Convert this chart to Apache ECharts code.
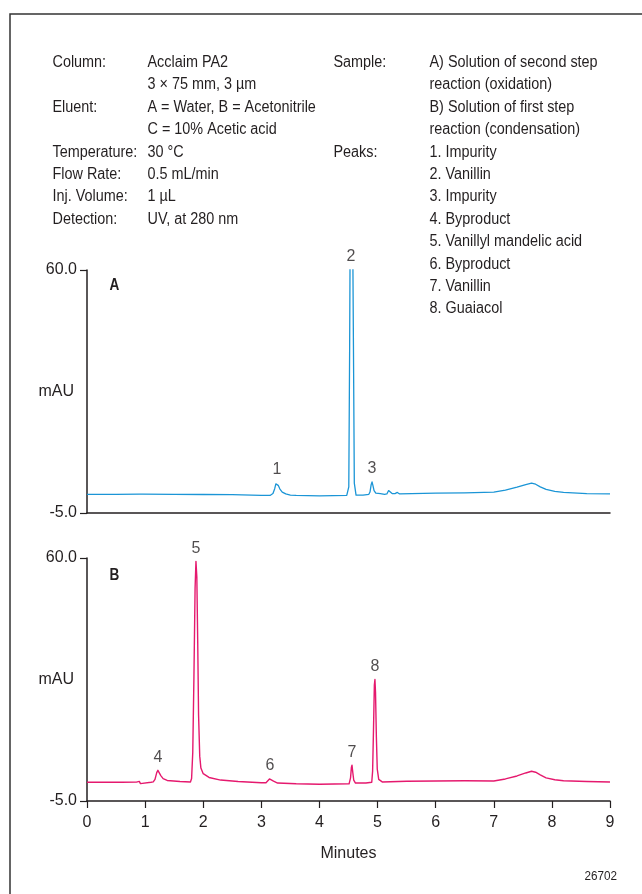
<!DOCTYPE html>
<html>
<head>
<meta charset="utf-8">
<script src="https://cdn.jsdelivr.net/npm/echarts@6/dist/echarts.min.js"></script>
<style>
  html, body { margin: 0; padding: 0; background: #fff; }
  #chart { width: 642px; height: 894px; }
</style>
</head>
<body>
<div id="chart"></div>
<script>
// chromatogram A (oxidation) : [minutes, mAU]
const traceA = [
  [0, 0], [0.5, 0], [0.9, 0.05], [0.93, -0.3], [0.96, 0.05], [1.5, 0], [2.0, -0.05],
  [2.5, -0.1], [3.0, -0.3], [3.15, -0.3], [3.2, 0.2], [3.23, 1.5], [3.25, 2.8],
  [3.27, 3.1], [3.29, 2.4], [3.32, 1.4], [3.36, 0.6], [3.42, 0.1], [3.5, -0.2],
  [3.6, -0.3], [4.0, -0.4], [4.47, -0.3], [4.49, -0.3], [4.505, 2], [4.52, 40],
  [4.53, 75], [4.545, 95], [4.555, 95], [4.57, 75], [4.585, 40], [4.6, 3],
  [4.63, -0.2], [4.75, -0.2], [4.85, 0], [4.87, 0.6], [4.89, 2.6], [4.905, 3.3],
  [4.92, 2.4], [4.94, 1.0], [4.97, 0.3], [5.05, 0.2], [5.12, 0], [5.16, 0.1],
  [5.19, 1.0], [5.205, 1.3], [5.22, 0.8], [5.25, 0.2], [5.3, 0.2], [5.34, 0.5],
  [5.38, 0.1], [6.0, 0.3], [6.5, 0.4], [7.0, 0.6], [7.2, 1.1], [7.4, 1.9],
  [7.55, 2.6], [7.65, 3.0], [7.72, 2.7], [7.8, 2.0], [7.9, 1.3], [8.05, 0.8],
  [8.2, 0.5], [8.6, 0.2], [9, 0.1]
];

// chromatogram B (condensation) : [minutes, mAU]
const traceB = [
  [0, 0], [0.6, 0], [0.85, 0.05], [0.9, 0.25], [0.92, -0.35], [0.95, 0.05], [1.1, 0],
  [1.14, 0.1], [1.17, 0.8], [1.2, 2.6], [1.22, 3.2], [1.24, 2.8], [1.27, 1.8],
  [1.31, 1.0], [1.38, 0.5], [1.6, 0.2], [1.78, 0.1], [1.8, 1], [1.82, 8],
  [1.84, 28], [1.86, 52], [1.875, 59.1], [1.89, 55], [1.905, 38], [1.92, 18],
  [1.94, 7], [1.96, 3.8], [2.0, 2.3], [2.1, 1.3], [2.3, 0.6], [2.6, 0.2],
  [3.0, -0.1], [3.08, -0.1], [3.11, 0.4], [3.14, 0.9], [3.17, 0.8], [3.21, 0.3],
  [3.28, -0.2], [3.6, -0.4], [4.0, -0.5], [4.51, -0.4], [4.535, 1.2], [4.55, 4.0],
  [4.56, 4.6], [4.575, 2.5], [4.59, 0.6], [4.62, -0.2], [4.8, -0.2], [4.9, 0],
  [4.915, 3], [4.93, 14], [4.945, 26], [4.955, 27.5], [4.965, 24], [4.98, 12],
  [4.995, 3.5], [5.02, 0.8], [5.08, 0.1], [5.5, 0.3], [6.0, 0.35], [6.5, 0.4],
  [7.0, 0.35], [7.2, 0.9], [7.4, 1.7], [7.55, 2.5], [7.65, 2.95], [7.72, 2.7],
  [7.8, 2.0], [7.9, 1.2], [8.05, 0.7], [8.2, 0.4], [8.6, 0.2], [9, 0.1]
];

// peak numbering
const peakNumsA = ['1', '2', '3'];
const peakTimesA = [3.27, 4.54, 4.905];
const peakTopsA = [3.1, 60, 3.3];
const peakNumsB = ['4', '5', '6', '7', '8'];
const peakTimesB = [1.22, 1.875, 3.15, 4.56, 4.955];
const peakTopsB = [3.2, 59.1, 0.9, 4.6, 27.5];

const minuteTicks = [0, 1, 2, 3, 4, 5, 6, 7, 8, 9];
const yTicks = [-5, 60];

const conditionLabels = ['Column:', '', 'Eluent:', '', 'Temperature:', 'Flow Rate:', 'Inj. Volume:', 'Detection:'];
const conditionValues = ['Acclaim PA2', '3 \u00d7 75 mm, 3 \u00b5m', 'A = Water, B = Acetonitrile', 'C = 10% Acetic acid', '30 \u00b0C', '0.5 mL/min', '1 \u00b5L', 'UV, at 280 nm'];
const sampleLines = ['A) Solution of second step', 'reaction (oxidation)', 'B) Solution of first step', 'reaction (condensation)'];
const peakNames = ['1. Impurity', '2. Vanillin', '3. Impurity', '4. Byproduct', '5. Vanillyl mandelic acid', '6. Byproduct', '7. Vanillin', '8. Guaiacol'];

const FONT = "'Liberation Sans', Arial, sans-serif";
const INK = '#231f20';
const BLUE = '#1b95d6';
const PINK = '#e5196e';

const rowY = i => 62.5 + i * 22.4;
// condensed look: squeeze Liberation Sans horizontally
function txt(x, y, s, extra, sx) {
  return {
    type: 'text', x: x, y: y, scaleX: sx || 0.9,
    style: Object.assign({ text: s, fill: INK, font: '16px ' + FONT, textVerticalAlign: 'middle' }, extra || {})
  };
}

const graphics = [
  { type: 'rect', shape: { x: 10, y: 14, width: 700, height: 1000 },
    style: { fill: 'none', stroke: '#333', lineWidth: 1.5 } }
];
conditionLabels.forEach((s, i) => { if (s) graphics.push(txt(52.5, rowY(i), s)); });
conditionValues.forEach((s, i) => graphics.push(txt(147.5, rowY(i), s)));
graphics.push(txt(333.5, rowY(0), 'Sample:'));
sampleLines.forEach((s, i) => graphics.push(txt(429.5, rowY(i), s)));
graphics.push(txt(333.5, rowY(4), 'Peaks:'));
peakNames.forEach((s, i) => graphics.push(txt(429.5, rowY(4 + i), s)));
graphics.push(txt(109.5, 285, 'A', { font: 'bold 17px ' + FONT }, 0.8));
graphics.push(txt(109.5, 575, 'B', { font: 'bold 17px ' + FONT }, 0.8));
graphics.push(txt(617, 876, '26702', { font: '13px ' + FONT, textAlign: 'right' }));

const axisText = { color: INK, fontSize: 16, fontFamily: FONT };

function yAxis(idx) {
  return {
    type: 'value', gridIndex: idx, min: -5, max: 60,
    name: 'mAU', nameLocation: 'middle', nameRotate: 0, nameGap: 13, nameMoveOverlap: false,
    nameTextStyle: axisText,
    axisLine: { show: true, lineStyle: { color: INK, width: 1.5 } },
    axisTick: { show: true, length: 7, customValues: yTicks, lineStyle: { color: INK, width: 1.2 } },
    axisLabel: Object.assign({ customValues: yTicks, formatter: v => v.toFixed(1), margin: 10 }, axisText),
    splitLine: { show: false }
  };
}

function labelSeries(idx, nums, times, tops) {
  return {
    type: 'scatter', xAxisIndex: idx, yAxisIndex: idx, symbolSize: 0, silent: true,
    data: nums.map((n, i) => [times[i], tops[i], n]),
    label: Object.assign({ show: true, position: 'top', distance: 5, formatter: p => p.value[2] }, axisText)
  };
}

const chart = echarts.init(document.getElementById('chart'));
chart.setOption({
  animation: false,
  backgroundColor: '#fff',
  grid: [
    { left: 87, top: 270, width: 523, height: 243 },
    { left: 87, top: 558, width: 523, height: 243 }
  ],
  xAxis: [
    { type: 'value', gridIndex: 0, min: 0, max: 9,
      axisLine: { show: true, onZero: false, lineStyle: { color: INK, width: 1.5 } },
      axisTick: { show: false }, axisLabel: { show: false }, splitLine: { show: false } },
    { type: 'value', gridIndex: 1, min: 0, max: 9, interval: 1,
      name: 'Minutes', nameLocation: 'middle', nameGap: 45, nameMoveOverlap: false,
      nameTextStyle: axisText,
      axisLine: { show: true, onZero: false, lineStyle: { color: INK, width: 1.5 } },
      axisTick: { show: true, length: 7, customValues: minuteTicks, lineStyle: { color: INK, width: 1.2 } },
      axisLabel: Object.assign({ margin: 14 }, axisText),
      splitLine: { show: false } }
  ],
  yAxis: [yAxis(0), yAxis(1)],
  graphic: graphics,
  series: [
    { type: 'line', xAxisIndex: 0, yAxisIndex: 0, data: traceA, showSymbol: false, clip: true,
      lineStyle: { color: BLUE, width: 1.3, join: 'round' } },
    { type: 'line', xAxisIndex: 1, yAxisIndex: 1, data: traceB, showSymbol: false, clip: true,
      lineStyle: { color: PINK, width: 1.4, join: 'round' } },
    labelSeries(0, peakNumsA, peakTimesA, peakTopsA),
    labelSeries(1, peakNumsB, peakTimesB, peakTopsB)
  ]
});
</script>
</body>
</html>
